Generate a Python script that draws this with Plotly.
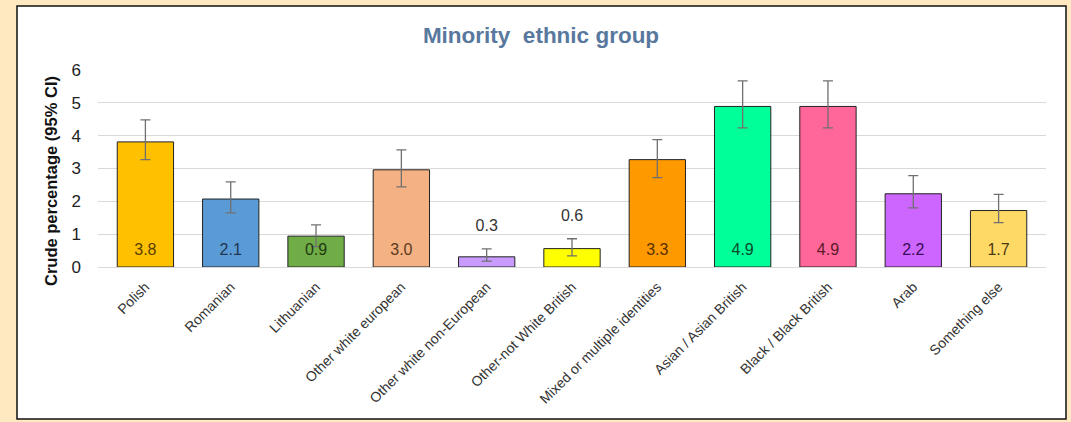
import plotly.graph_objects as go

categories = ["Polish", "Romanian", "Lithuanian", "Other white european",
              "Other white non-European", "Other-not White British",
              "Mixed or multiple identities", "Asian / Asian British",
              "Black / Black British", "Arab", "Something else"]
values = [3.8, 2.1, 0.9, 3.0, 0.3, 0.6, 3.3, 4.9, 4.9, 2.2, 1.7]
plot_values = [3.81, 2.07, 0.94, 2.96, 0.31, 0.56, 3.27, 4.89, 4.89, 2.23, 1.72]
ci_upper = [4.48, 2.59, 1.28, 3.57, 0.55, 0.86, 3.88, 5.67, 5.67, 2.78, 2.21]
ci_lower = [3.27, 1.65, 0.62, 2.44, 0.18, 0.34, 2.72, 4.24, 4.24, 1.80, 1.35]
bar_colors = ["#FFC000", "#5B9BD5", "#70AD47", "#F4B183", "#C89BFF", "#FFFF00",
              "#FF9900", "#00FF99", "#FF6699", "#CC66FF", "#FFD966"]
text_colors = ["#5A4000", "#1F3550", "#1E3A10", "#5A3A20", "#333333", "#333333",
               "#5A3000", "#0A4A2A", "#5A1A2A", "#3A0A5A", "#4A3A10"]
title_text = "Minority  ethnic group"
y_title_text = "Crude percentage (95% CI)"

err_plus = [u - v for u, v in zip(ci_upper, plot_values)]
err_minus = [v - l for v, l in zip(plot_values, ci_lower)]

fig = go.Figure()
fig.add_trace(go.Bar(
    x=categories, y=plot_values,
    marker=dict(color=bar_colors, line=dict(color="#222222", width=1)),
    width=0.66,
    error_y=dict(type="data", symmetric=False, array=err_plus, arrayminus=err_minus,
                 color="#707070", thickness=1.3, width=5),
    hoverinfo="skip",
))

label_y = []
for v, u in zip(plot_values, ci_upper):
    label_y.append(0.49 if v > 0.8 else u + 0.66)
fig.add_trace(go.Scatter(
    x=categories, y=label_y, mode="text",
    text=[f"{v:.1f}" for v in values],
    textfont=dict(family="Liberation Sans, Arial", size=16, color=text_colors),
    hoverinfo="skip",
))

fig.add_shape(type="rect", xref="paper", yref="paper",
              x0=(17 - 98) / 948, x1=(1066 - 98) / 948,
              y0=(267 - 419) / 197, y1=(267 - 6) / 197,
              fillcolor="white", line=dict(color="#111111", width=1.5), layer="below")

fig.add_annotation(text=f"<b>{y_title_text}</b>", textangle=-90, showarrow=False,
                   xref="paper", yref="paper",
                   x=(51 - 98) / 948, y=(267 - 181) / 197,
                   xanchor="center", yanchor="middle",
                   font=dict(family="Liberation Sans, Arial", size=16.5, color="#111111"))

fig.update_layout(
    width=1071, height=422,
    margin=dict(l=98, r=25, t=70, b=155, autoexpand=False),
    paper_bgcolor="#FFE9C0",
    plot_bgcolor="white",
    showlegend=False,
    title=dict(text=f"<b>{title_text}</b>", x=541 / 1071, xanchor="center",
               y=1 - 35 / 422, yanchor="middle",
               font=dict(family="Liberation Sans, Arial", size=22.5, color="#58789E")),
    font=dict(family="Liberation Sans, Arial"),
    bargap=0.34,
)
fig.update_xaxes(tickangle=-45, tickfont=dict(size=14, color="#333333"),
                 ticklabelstandoff=8,
                 showgrid=False, ticks="", showline=False, automargin=False)
fig.update_yaxes(range=[0, 6], dtick=1, gridcolor="#D9D9D9", gridwidth=1,
                 zeroline=True, zerolinecolor="#D9D9D9", zerolinewidth=1,
                 tickfont=dict(size=17, color="#222222"), ticks="", automargin=False,
                 ticklabelstandoff=16)

fig.write_html("out.html", config={"displayModeBar": False},
               post_script="document.body.style.margin='0';document.body.style.background='#FFE9C0';")
